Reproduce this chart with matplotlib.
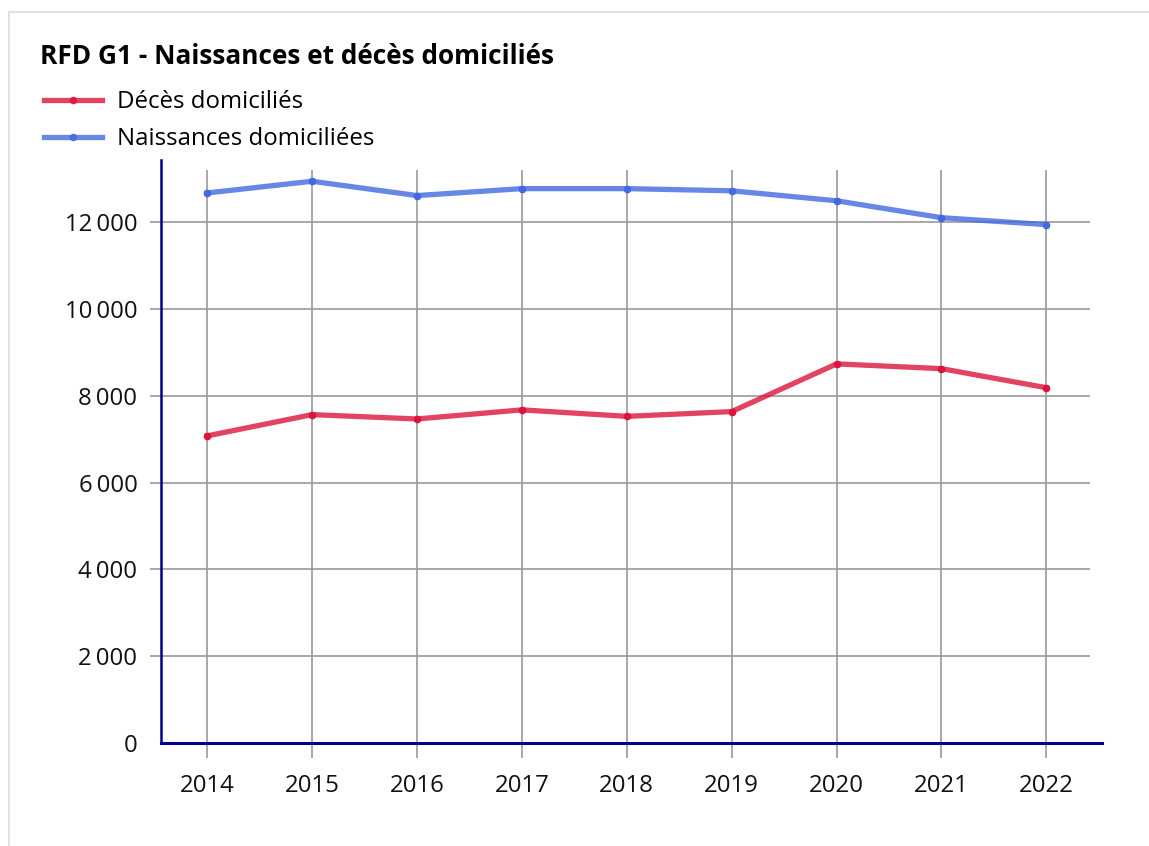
import matplotlib
matplotlib.use("Agg")
import matplotlib.pyplot as plt
from matplotlib.patches import Rectangle
from matplotlib.lines import Line2D
from matplotlib.ticker import FuncFormatter

plt.rcParams['font.family'] = ['Open Sans', 'DejaVu Sans']

# Data
years = [2014, 2015, 2016, 2017, 2018, 2019, 2020, 2021, 2022]
deces = [7080, 7570, 7470, 7680, 7530, 7640, 8740, 8630, 8190]
naissances = [12680, 12950, 12620, 12780, 12780, 12730, 12500, 12110, 11950]
y_ticks = [0, 2000, 4000, 6000, 8000, 10000, 12000]

title = "RFD G1 - Naissances et décès domiciliés"
label_deces = "Décès domiciliés"
label_naiss = "Naissances domiciliées"

RED = '#dc143c'
BLUE = '#4169e1'
GRID = '#9a9a9a'
NAVY = '#00008b'

W, H = 1149, 846
fig = plt.figure(figsize=(W / 100, H / 100), dpi=100)

# light frame around the card
fig.patches.append(Rectangle((9 / W, -0.01), 1.2, 1 - 12 / H + 0.01,
                             transform=fig.transFigure, fill=False,
                             edgecolor='#e2e2e2', lw=1.5))

ax = fig.add_axes([161 / W, (H - 743) / H, 941 / W, 583 / H])
ax.set_xlim(2013.56, 2022.53)
ax.set_ylim(0, 13440)

# grid lines drawn by hand, they stick out past the axes
ax.hlines(y_ticks[1:], -0.012, 0.987, transform=ax.get_yaxis_transform(),
          colors=GRID, lw=1.2, clip_on=False, zorder=1)
ax.vlines(years, -0.026, 0.983, transform=ax.get_xaxis_transform(),
          colors=GRID, lw=1.2, clip_on=False, zorder=1)

ax.plot(years, deces, color=RED, alpha=0.8, lw=3.8, zorder=3)
ax.plot(years, deces, 'o', color=RED, ms=4.5, zorder=4)
ax.plot(years, naissances, color=BLUE, alpha=0.8, lw=3.8, zorder=3)
ax.plot(years, naissances, 'o', color=BLUE, ms=4.5, zorder=4)

for s in ['top', 'right']:
    ax.spines[s].set_visible(False)
ax.spines['left'].set_color(NAVY)
ax.spines['left'].set_linewidth(1.8)
ax.spines['bottom'].set_color(NAVY)
ax.spines['bottom'].set_linewidth(2.2)
ax.spines['bottom'].set_zorder(5)

ax.set_xticks(years)
ax.set_yticks(y_ticks)
ax.yaxis.set_major_formatter(FuncFormatter(
    lambda v, p: f"{int(v):,}".replace(",", "\u2009")))
ax.tick_params(axis='x', length=0, pad=22.5, labelsize=17.3, labelcolor='#111111')
ax.tick_params(axis='y', length=0, pad=17, labelsize=17.3, labelcolor='#111111')

fig.text(40 / W, 1 - 57 / H, title, fontsize=18.9, fontweight='bold',
         va='center', ha='left', color='#000000')

h1 = Line2D([], [], color=RED, alpha=0.8, lw=3.8, marker='o', ms=4.5,
            markerfacecolor=RED, markeredgecolor=RED)
h2 = Line2D([], [], color=BLUE, alpha=0.8, lw=3.8, marker='o', ms=4.5,
            markerfacecolor=BLUE, markeredgecolor=BLUE)
fig.legend([h1, h2], [label_deces, label_naiss], loc='upper left',
           bbox_to_anchor=(44 / W, 1 - 90 / H), frameon=False,
           fontsize=17.3, handlelength=2.42, handletextpad=0.62,
           borderpad=0, borderaxespad=0, labelspacing=0.56)

fig.savefig("out.png", dpi=100)
